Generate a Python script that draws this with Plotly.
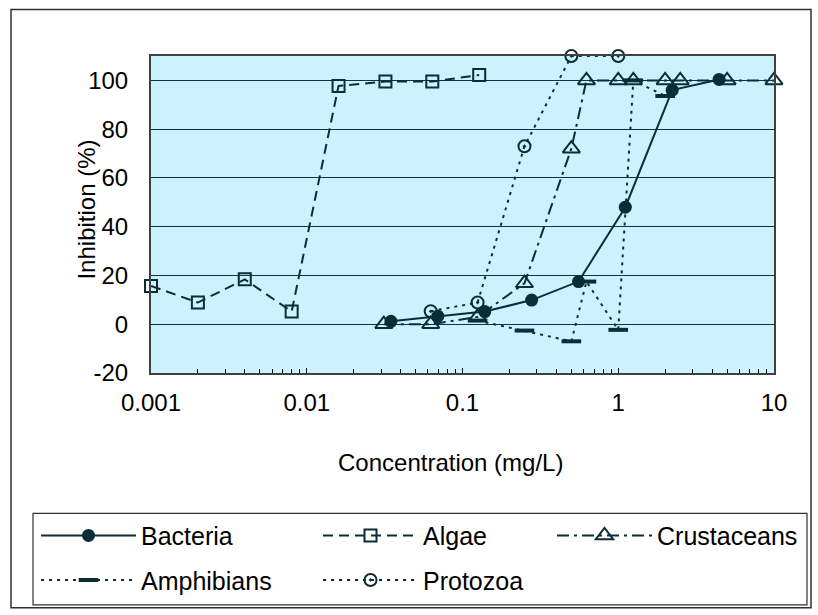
import plotly.graph_objects as go

# ---- data ----
bacteria_x = [0.0347, 0.0694, 0.139, 0.278, 0.556, 1.11, 2.22, 4.44]
bacteria_y = [1.2, 3.3, 5.2, 9.9, 17.5, 48, 96, 100.4]

algae_x = [0.001, 0.002, 0.004, 0.008, 0.016, 0.032, 0.064, 0.128]
algae_y = [15.7, 8.9, 18.4, 5.2, 97.7, 99.5, 99.5, 102.2]

crust_x = [0.03125, 0.0625, 0.125, 0.25, 0.5, 0.625, 1, 1.25, 2, 2.5, 5, 10]
crust_y = [0, 0, 3, 16.8, 72, 100, 100, 100, 100, 100, 100, 100]

amph_x = [0.125, 0.25, 0.5, 0.625, 1, 1.25, 2]
amph_y = [1.5, -2.6, -7, 17.5, -2.3, 100, 93.6]

proto_x = [0.0625, 0.125, 0.25, 0.5, 1]
proto_y = [5.3, 8.9, 73, 110, 110]

x_ticks = [0.001, 0.01, 0.1, 1, 10]
x_ticktext = ["0.001", "0.01", "0.1", "1", "10"]
y_ticks = [-20, 0, 20, 40, 60, 80, 100]
y_ticktext = ["-20", "0", "20", "40", "60", "80", "100"]

INK = "#0B2D36"
FONT = "Liberation Sans, Arial, sans-serif"
FS = 24

# plot-area pixel geometry
L, R, T, B = 151, 774, 56, 376
W, H = 818, 615


def px(x):
    return (x - L) / (R - L)


def py(y):
    return (B - y) / (B - T)


fig = go.Figure()

fig.add_trace(go.Scatter(
    x=bacteria_x, y=bacteria_y, name="Bacteria", mode="lines+markers",
    line=dict(color=INK, width=2),
    marker=dict(symbol="circle", size=13, color=INK),
    cliponaxis=False, legend="legend", legendgroup="a"))

fig.add_trace(go.Scatter(
    x=algae_x, y=algae_y, name="Algae", mode="lines+markers",
    line=dict(color=INK, width=2, dash="10px,6px"),
    marker=dict(symbol="square-open", size=12, color=INK, line=dict(width=2, color=INK)),
    cliponaxis=False, legend="legend2", legendgroup="b"))

fig.add_trace(go.Scatter(
    x=crust_x, y=crust_y, name="Crustaceans", mode="lines+markers",
    line=dict(color=INK, width=2, dash="12px,5px,3px,5px"),
    marker=dict(symbol="triangle-up-open", size=15, color=INK, line=dict(width=2, color=INK)),
    cliponaxis=False, legend="legend3", legendgroup="c"))

fig.add_trace(go.Scatter(
    x=amph_x, y=amph_y, name="Amphibians", mode="lines+markers",
    line=dict(color=INK, width=2, dash="3px,5px"),
    marker=dict(symbol="line-ew", size=14, color=INK, line=dict(width=4, color=INK)),
    cliponaxis=False, legend="legend", legendgroup="d"))

fig.add_trace(go.Scatter(
    x=proto_x, y=proto_y, name="Protozoa", mode="lines+markers",
    line=dict(color=INK, width=2, dash="3px,5px"),
    marker=dict(symbol="circle-open-dot", size=12, color=INK, line=dict(width=2, color=INK)),
    cliponaxis=False, legend="legend2", legendgroup="e"))

legend_common = dict(
    font=dict(family=FONT, size=25, color="black"),
    bgcolor="rgba(0,0,0,0)", borderwidth=0,
    orientation="v", xanchor="left", yanchor="top",
    itemwidth=95, tracegroupgap=9, traceorder="grouped",
)

fig.update_layout(
    width=W, height=H,
    margin=dict(l=L, r=W - R, t=T, b=H - B),
    paper_bgcolor="white",
    plot_bgcolor="#CCF2FF",
    font=dict(family=FONT, size=FS, color="black"),
    showlegend=True,
    legend=dict(x=px(36), y=py(517), **legend_common),
    legend2=dict(x=px(318), y=py(517), **legend_common),
    legend3=dict(x=px(552), y=py(517), **legend_common),
    xaxis=dict(
        type="log", range=[-3, 1],
        tickvals=x_ticks, ticktext=x_ticktext,
        ticks="inside", ticklen=5, tickcolor="black", tickwidth=1,
        showgrid=False, zeroline=False,
        showline=True, linecolor="#404040", linewidth=2, mirror=True,
        ticklabelstandoff=7,
        minor=dict(
            tickvals=[m * d for d in [0.001, 0.01, 0.1, 1] for m in range(2, 10)],
            ticks="inside", ticklen=4, tickcolor="black", showgrid=False),
    ),
    yaxis=dict(
        range=[-20, 110],
        tickvals=y_ticks, ticktext=y_ticktext,
        ticks="", showgrid=True, gridcolor="#0E3440", gridwidth=1,
        zeroline=False,
        showline=True, linecolor="#404040", linewidth=2, mirror=True,
        ticklabelstandoff=16,
    ),
    annotations=[
        dict(text="Inhibition (%)", x=px(87), y=py(211), xref="paper", yref="paper",
             showarrow=False, textangle=-90, font=dict(family=FONT, size=FS),
             xanchor="center", yanchor="middle"),
        dict(text="Concentration (mg/L)", x=px(450), y=py(466), xref="paper", yref="paper",
             showarrow=False, font=dict(family=FONT, size=FS),
             xanchor="center", yanchor="middle"),
    ],
    shapes=[
        dict(type="rect", xref="paper", yref="paper",
             x0=px(11), x1=px(811), y0=py(613), y1=py(9),
             line=dict(color="#303030", width=1.5), fillcolor="rgba(0,0,0,0)", layer="below"),
        dict(type="rect", xref="paper", yref="paper",
             x0=px(33), x1=px(807), y0=py(610), y1=py(517.7),
             line=dict(color="#303030", width=1.2), fillcolor="rgba(0,0,0,0)", layer="below"),
    ],
)

fig.write_html("out.html")
